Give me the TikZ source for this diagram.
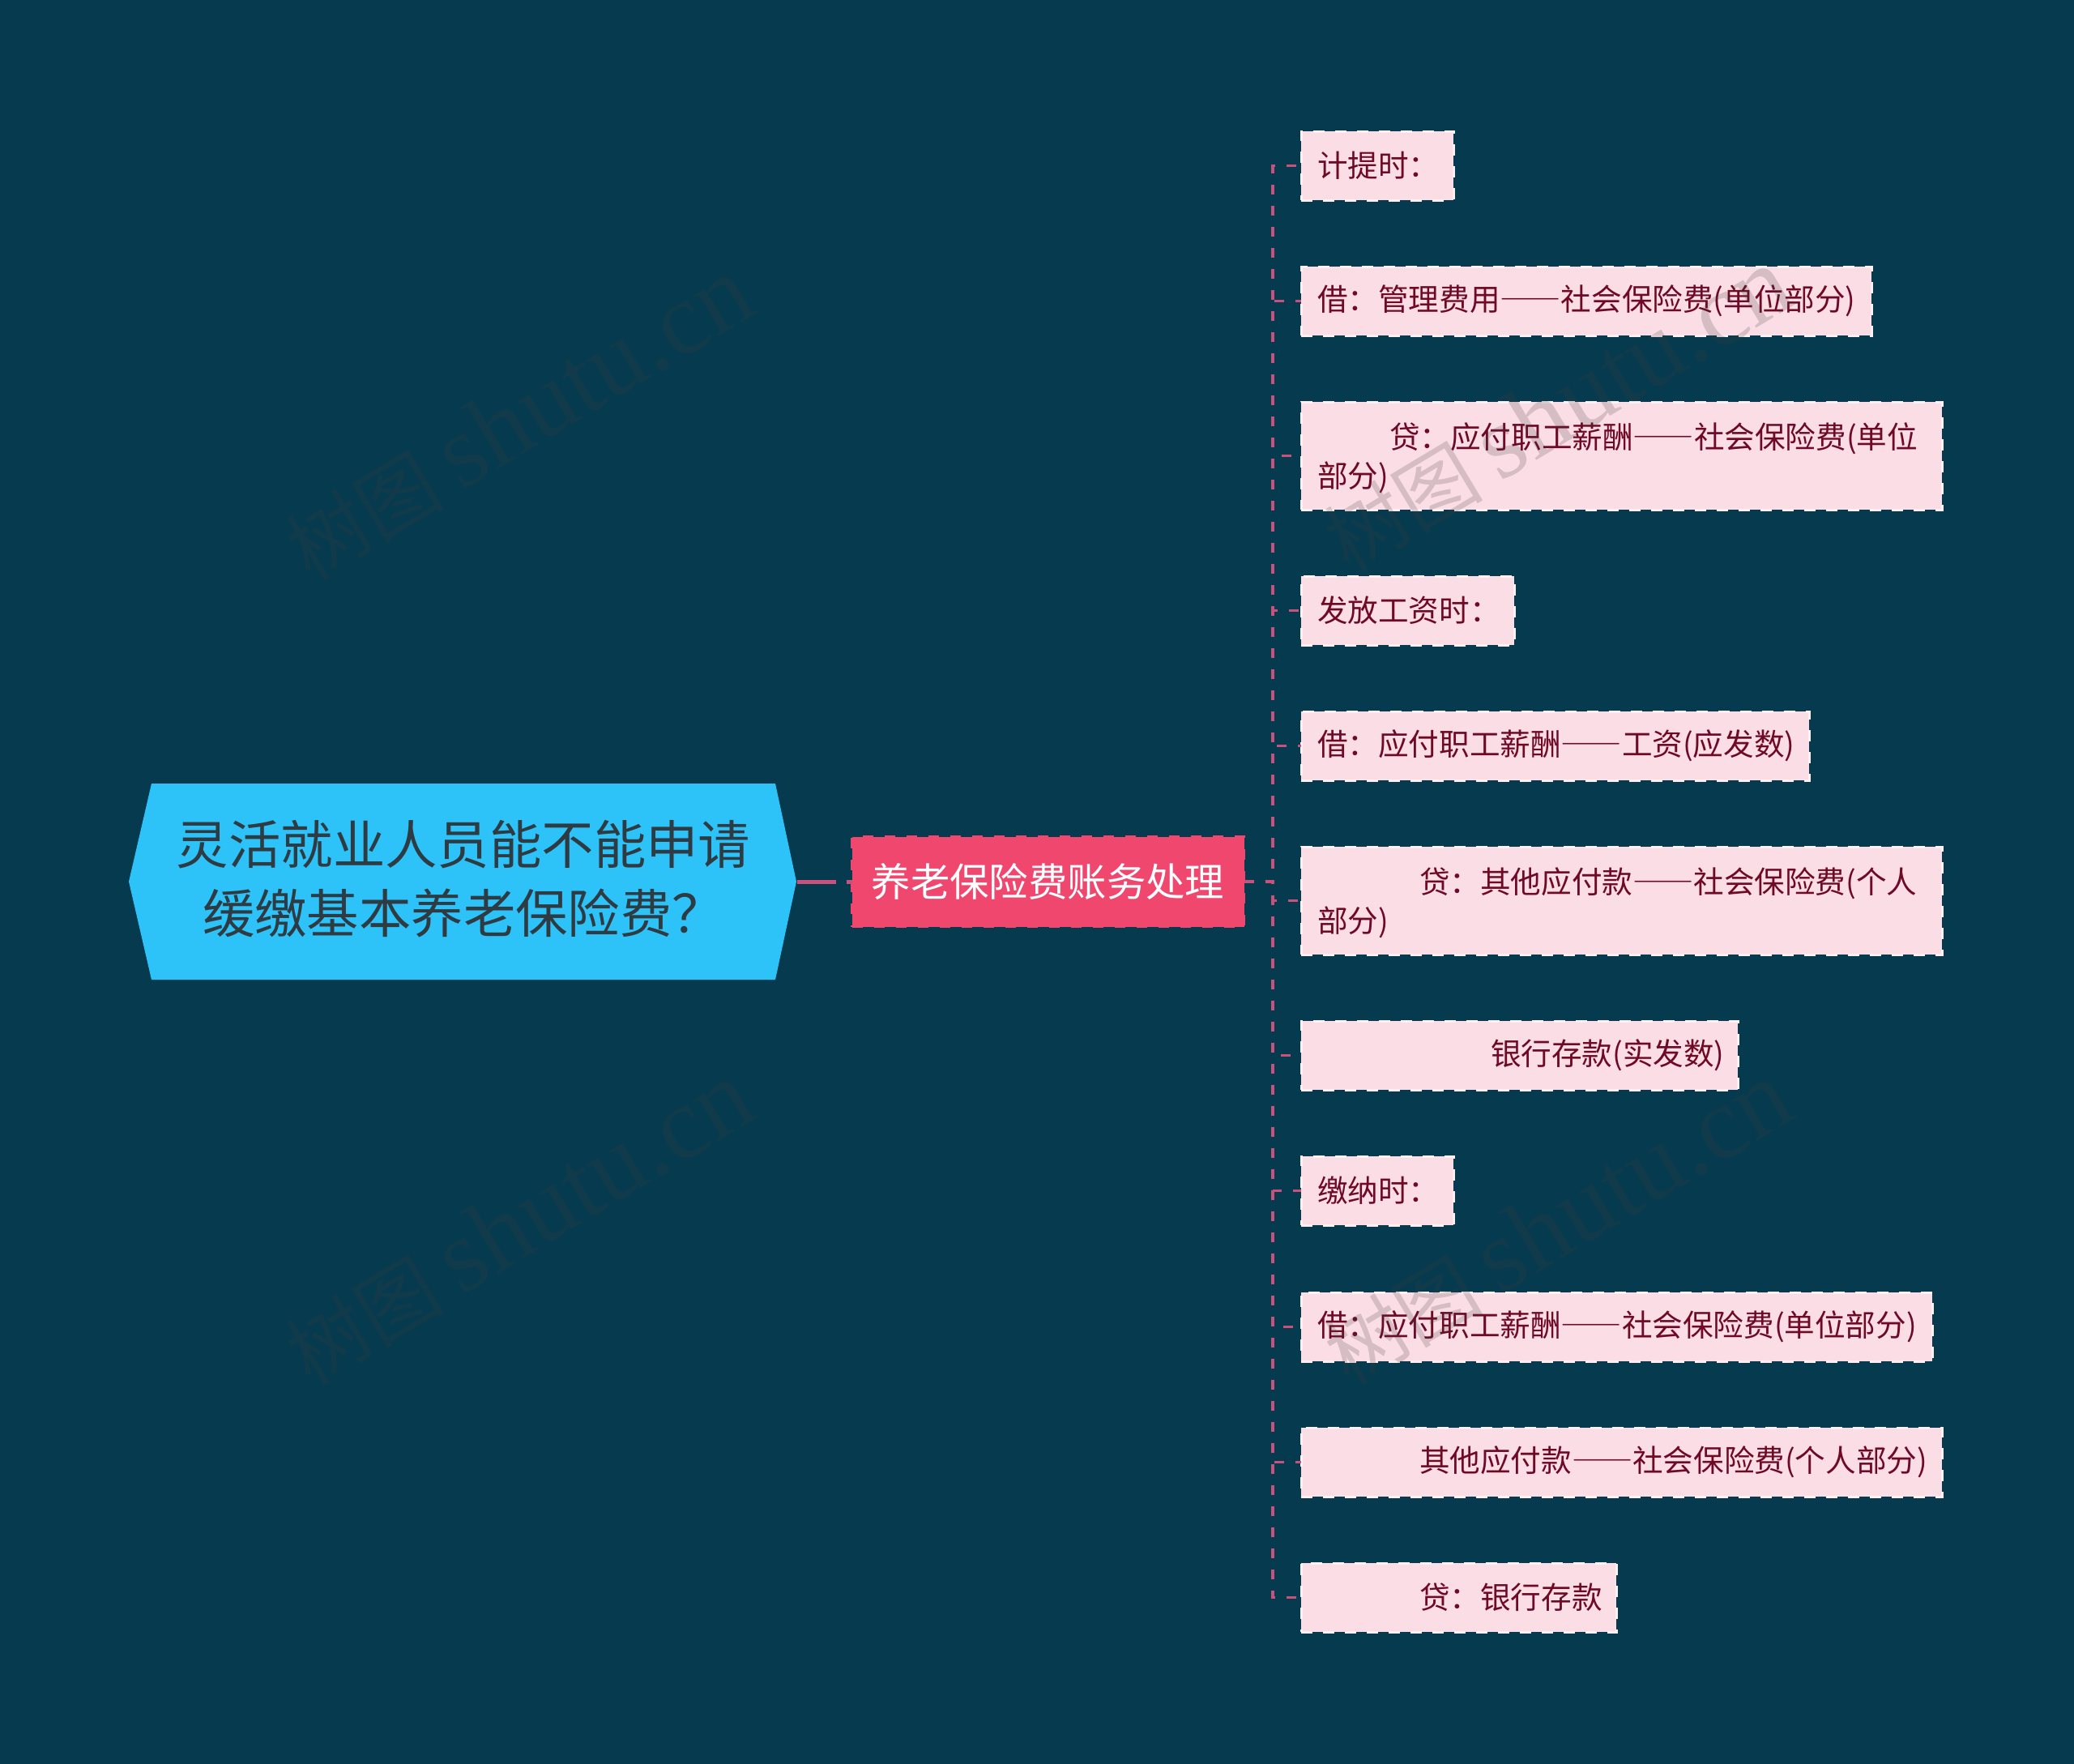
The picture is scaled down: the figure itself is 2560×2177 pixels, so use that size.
\documentclass[tikz,border=0pt]{standalone}
\usepackage{fontspec}
\setmainfont{Noto Sans CJK SC}
\newfontfamily\markfont{Liberation Serif}
\newfontfamily\dashfont[RawFeature=+fwid]{Noto Sans CJK SC}
\usepackage{tikz}

\definecolor{pagebg}{HTML}{063A4F}
\definecolor{rootblue}{HTML}{2DC3F8}
\definecolor{rootink}{HTML}{2F3B42}
\definecolor{hubred}{HTML}{F0476F}
\definecolor{leafpink}{HTML}{FBDDE5}
\definecolor{leafedge}{HTML}{FFF0F4}
\definecolor{leafink}{HTML}{6E0A26}
\definecolor{linkred}{HTML}{C8527C}

\newcommand{\longdash}{\mbox{\dashfont ——}\nobreak}
\newcommand{\marktext}{树图 {\markfont\fontsize{128pt}{130pt}\selectfont shutu.cn}}

\tikzset{
  rootnode/.style={text=rootink, align=center, outer sep=0pt, minimum width=824pt,
    font=\fontsize{64.4pt}{85pt}\selectfont},
  hubnode/.style={fill=hubred, draw=hubred, line width=3pt, dash pattern=on 13pt off 14pt,
    text=white, outer sep=0pt, minimum width=484pt, minimum height=111pt,
    font=\fontsize{48.4pt}{58pt}\selectfont},
  leaf/.style={fill=leafpink, draw=leafedge, line width=3pt, dash pattern=on 14pt off 13pt,
    text=leafink, outer sep=0pt, anchor=north west, align=left, inner xsep=20pt, inner ysep=0pt,
    text width=#1pt-43pt, minimum height=85pt,
    font=\fontsize{37.6pt}{48pt}\selectfont},
  trunk/.style={draw=linkred, line width=5pt, dash pattern=on 48pt off 13pt},
  twig/.style={draw=linkred, line width=3.4pt, dash pattern=on 12pt off 14pt},
  wmark/.style={text=black!76, opacity=.2, rotate=31, outer sep=0pt,
    font=\fontsize{98pt}{120pt}\selectfont}
}

\begin{document}
\begin{tikzpicture}[x=1pt,y=-1pt]
  \fill[pagebg] (0,0) rectangle (2560,2177);

  % root shape
  \fill[rootblue] (159,1088) -- (187,967) -- (957,967) -- (983,1088) -- (957,1209) -- (187,1209) -- cycle;
  \node[rootnode] (root) at (572,1085) {灵活就业人员能不能申请\\缓缴基本养老保险费？};
  \node[hubnode] (hub) at (1293.5,1088) {养老保险费账务处理};
  \coordinate (bus) at (1571,1088);

  \node[leaf=191] (tips) at (1606,162) {计提时：};
  \node[leaf=707] (debitfee) at (1606,329) {借：管理费用\longdash{}社会保险费(单位部分)};
  \node[leaf=794, minimum height=133pt] (creditpay) at (1606,496) {\rule{0pt}{37pt}\hspace*{89pt}贷：应付职工薪酬\longdash{}社会保险费(单位\\部分)};
  \node[leaf=266] (wages) at (1606,711) {发放工资时：};
  \node[leaf=630] (debitpay) at (1606,878) {借：应付职工薪酬\longdash{}工资(应发数)};
  \node[leaf=794, minimum height=133pt] (creditother) at (1606,1045) {\rule{0pt}{37pt}\hspace*{126pt}贷：其他应付款\longdash{}社会保险费(个人\\部分)};
  \node[leaf=542] (bank) at (1606,1260) {\hspace*{214pt}银行存款(实发数)};
  \node[leaf=191] (paid) at (1606,1427) {缴纳时：};
  \node[leaf=782] (debitsocial) at (1606,1595) {借：应付职工薪酬\longdash{}社会保险费(单位部分)};
  \node[leaf=794] (otherdue) at (1606,1762) {\hspace*{126pt}其他应付款\longdash{}社会保险费(个人部分)};
  \node[leaf=392] (creditbank) at (1606,1929) {\hspace*{126pt}贷：银行存款};

  \draw[trunk] (root.east |- hub.west) -- (hub.west);

  \draw[twig] (hub.east) -- (bus) |- (tips.west);
  \draw[twig] (hub.east) -- (bus) |- (debitfee.west);
  \draw[twig] (hub.east) -- (bus) |- (creditpay.west);
  \draw[twig] (hub.east) -- (bus) |- (wages.west);
  \draw[twig] (hub.east) -- (bus) |- (debitpay.west);
  \draw[twig] (hub.east) -- (bus) |- (creditother.west);
  \draw[twig] (hub.east) -- (bus) |- (bank.west);
  \draw[twig] (hub.east) -- (bus) |- (paid.west);
  \draw[twig] (hub.east) -- (bus) |- (debitsocial.west);
  \draw[twig] (hub.east) -- (bus) |- (otherdue.west);
  \draw[twig] (hub.east) -- (bus) |- (creditbank.west);

  % faint marks across the page
  \node[wmark] (markone) at (640,517) {\marktext};
  \node[wmark] (marktwo) at (640,1510) {\marktext};
  \node[wmark] (markthree) at (1922,506) {\marktext};
  \node[wmark] (markfour) at (1922,1510) {\marktext};
\end{tikzpicture}
\end{document}
